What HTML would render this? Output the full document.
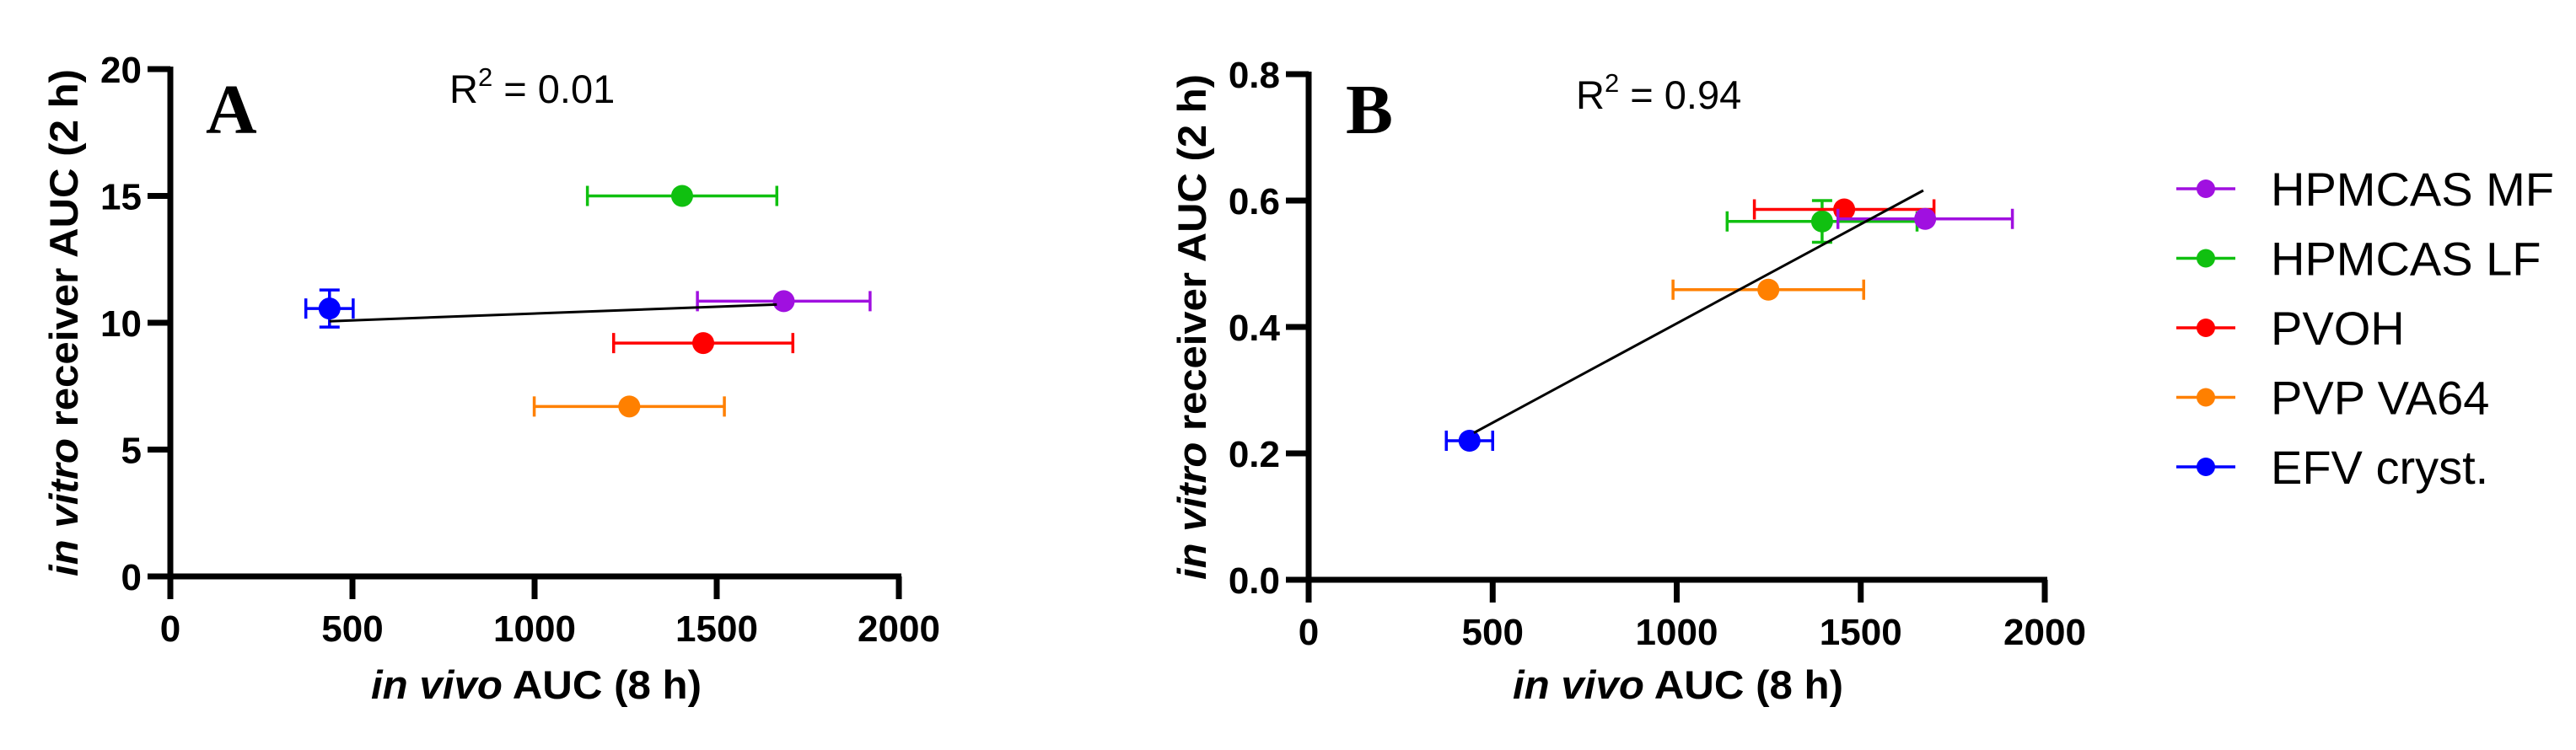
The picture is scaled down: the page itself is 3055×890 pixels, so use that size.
<!DOCTYPE html>
<html><head><meta charset="utf-8">
<style>
html,body{margin:0;padding:0;background:#fff;}
svg{display:block;}
text{font-family:"Liberation Sans",Arial,sans-serif;}
</style></head>
<body>
<svg id="chart" width="3055" height="890" viewBox="0 0 3055 890" xmlns="http://www.w3.org/2000/svg">
  <g id="panelA"></g>
  <g id="panelB"></g>
  <g id="legend"></g>
</svg>
<script>
const seriesNames = ["HPMCAS MF","HPMCAS LF","PVOH","PVP VA64","EFV cryst."];
const seriesColors = ["#a010e0","#10c010","#ff0000","#ff8000","#0000ff"];
const drawOrder = [1,3,4,2,0];
// Panel A
const aX = [1684,1405,1463,1260,437];
const aY = [10.85,15.0,9.2,6.7,10.56];
const aXErr = [237,260,246,261,65];
const aYErr = [0,0,0,0,0.73];
const aFitX = [437,1665];
const aFitY = [10.06,10.72];
const aYTicks = [0,5,10,15,20];
const aYTickLabels = ["0","5","10","15","20"];
// Panel B
const bX = [1675,1395,1455,1249,437];
const bY = [0.571,0.567,0.586,0.459,0.22];
const bXErr = [237,258,244,259,63];
const bYErr = [0,0.033,0,0,0];
const bFitX = [449,1670];
const bFitY = [0.2325,0.616];
const bYTicks = [0,0.2,0.4,0.6,0.8];
const bYTickLabels = ["0.0","0.2","0.4","0.6","0.8"];
const xTicks = [0,500,1000,1500,2000];
const xTickLabels = ["0","500","1000","1500","2000"];

const NS = "http://www.w3.org/2000/svg";
function mk(parent, tag, attrs, txt){
  const e = document.createElementNS(NS, tag);
  for (const k in attrs) e.setAttribute(k, attrs[k]);
  if (txt !== undefined) e.textContent = txt;
  parent.appendChild(e);
  return e;
}

function panel(g, cfg){
  const sx = v => cfg.x0 + (v - 0) / 2000 * (cfg.x1 - cfg.x0);
  const sy = v => cfg.y0 - (v - 0) / cfg.ymax * (cfg.y0 - cfg.y1);
  const ya = mk(g,'line',{x1:cfg.x0,y1:cfg.y1-3,x2:cfg.x0,y2:cfg.y0+3,stroke:'#000','stroke-width':7});
  
  
  const xa = mk(g,'line',{x1:cfg.x0-3,y1:cfg.y0,x2:cfg.x1+3,y2:cfg.y0,stroke:'#000','stroke-width':7});
  
  
  cfg.yTicks.forEach((t,i)=>{
    const y = sy(t);
    const tl = mk(g,'line',{x1:cfg.x0-27,y1:y,x2:cfg.x0,y2:y,stroke:'#000','stroke-width':7});
    
    
    const tx = mk(g,'text',{x:cfg.x0-34,y:y+16,'text-anchor':'end','font-size':44,'font-weight':'bold'},cfg.yLabels[i]);
    
    
  });
  xTicks.forEach((t,i)=>{
    const x = sx(t);
    const tl = mk(g,'line',{x1:x,y1:cfg.y0,x2:x,y2:cfg.y0+27,stroke:'#000','stroke-width':7});
    
    
    const tx = mk(g,'text',{x:x,y:cfg.y0+77,'text-anchor':'middle','font-size':44,'font-weight':'bold'},xTickLabels[i]);
    
    
  });
  const xt = mk(g,'text',{x:cfg.xtCx,y:829,'text-anchor':'middle','font-size':47,'font-weight':'bold',textLength:392,lengthAdjust:'spacingAndGlyphs'});
  
  
  mk(xt,'tspan',{'font-style':'italic'},'in vivo');
  mk(xt,'tspan',{},' AUC (8 h)');
  const ytc = (cfg.y0 + cfg.y1)/2;
  const yt = mk(g,'text',{x:0,y:0,'text-anchor':'middle','font-size':47,'font-weight':'bold',textLength:cfg.y0-cfg.y1,lengthAdjust:'spacingAndGlyphs',transform:`translate(${cfg.ytX},${ytc}) rotate(-90)`});
  
  
  mk(yt,'tspan',{'font-style':'italic'},'in vitro');
  mk(yt,'tspan',{},' receiver AUC (2 h)');
  const pl = mk(g,'text',{x:cfg.letterX,y:cfg.letterY,style:'font-family:"Liberation Serif","Times New Roman",serif;font-size:84px;font-weight:bold'},cfg.letter);
  
  
  const r2 = mk(g,'text',{x:cfg.r2X,y:cfg.r2Y,'font-size':47});
  
  
  mk(r2,'tspan',{},'R');
  mk(r2,'tspan',{dy:-20,'font-size':31},'2');
  mk(r2,'tspan',{dy:20},' = '+cfg.r2);
  drawOrder.forEach(i=>{
    const sg = mk(g,'g',{});
    
    
    const c = seriesColors[i];
    const cx = sx(cfg.X[i]), cy = sy(cfg.Y[i]);
    const xl = sx(cfg.X[i]-cfg.XE[i]), xr = sx(cfg.X[i]+cfg.XE[i]);
    const eb = mk(sg,'path',{d:`M${xl},${cy}H${xr}M${xl},${cy-12}V${cy+12}M${xr},${cy-12}V${cy+12}`,stroke:c,'stroke-width':3.5,fill:'none'});
    
    
    if (cfg.YE[i] > 0){
      const yt2 = sy(cfg.Y[i]+cfg.YE[i]), yb = sy(cfg.Y[i]-cfg.YE[i]);
      const ev = mk(sg,'path',{d:`M${cx},${yt2}V${yb}M${cx-12},${yt2}H${cx+12}M${cx-12},${yb}H${cx+12}`,stroke:c,'stroke-width':3.5,fill:'none'});
      
      
    }
    const pt = mk(sg,'circle',{cx:cx,cy:cy,r:13,fill:c});
    
    
  });
  const fl = mk(g,'line',{x1:sx(cfg.FX[0]),y1:sy(cfg.FY[0]),x2:sx(cfg.FX[1]),y2:sy(cfg.FY[1]),stroke:'#000','stroke-width':3});
  
  
}

panel(document.getElementById('panelA'),{x0:202,x1:1066,y0:684,y1:82,ymax:20,yTicks:aYTicks,yLabels:aYTickLabels,
  X:aX,Y:aY,XE:aXErr,YE:aYErr,FX:aFitX,FY:aFitY,xtCx:636,ytX:92,letter:'A',letterX:244,letterY:158,r2X:533,r2Y:122,r2:'0.01'});
panel(document.getElementById('panelB'),{x0:1552,x1:2425,y0:688,y1:88,ymax:0.8,yTicks:bYTicks,yLabels:bYTickLabels,
  X:bX,Y:bY,XE:bXErr,YE:bYErr,FX:bFitX,FY:bFitY,xtCx:1990,ytX:1430,letter:'B',letterX:1596,letterY:158,r2X:1869,r2Y:129,r2:'0.94'});

const lg = document.getElementById('legend');
seriesNames.forEach((n,i)=>{
  const y = 224 + i*82.5;
  const eg = mk(lg,'g',{});
  
  
  mk(eg,'line',{x1:2581,y1:y,x2:2651,y2:y,stroke:seriesColors[i],'stroke-width':3.5});
  mk(eg,'circle',{cx:2616,cy:y,r:11,fill:seriesColors[i]});
  const t = mk(eg,'text',{x:2693,y:y+20,'font-size':56},n);
  
  
});
</script>
</body></html>
